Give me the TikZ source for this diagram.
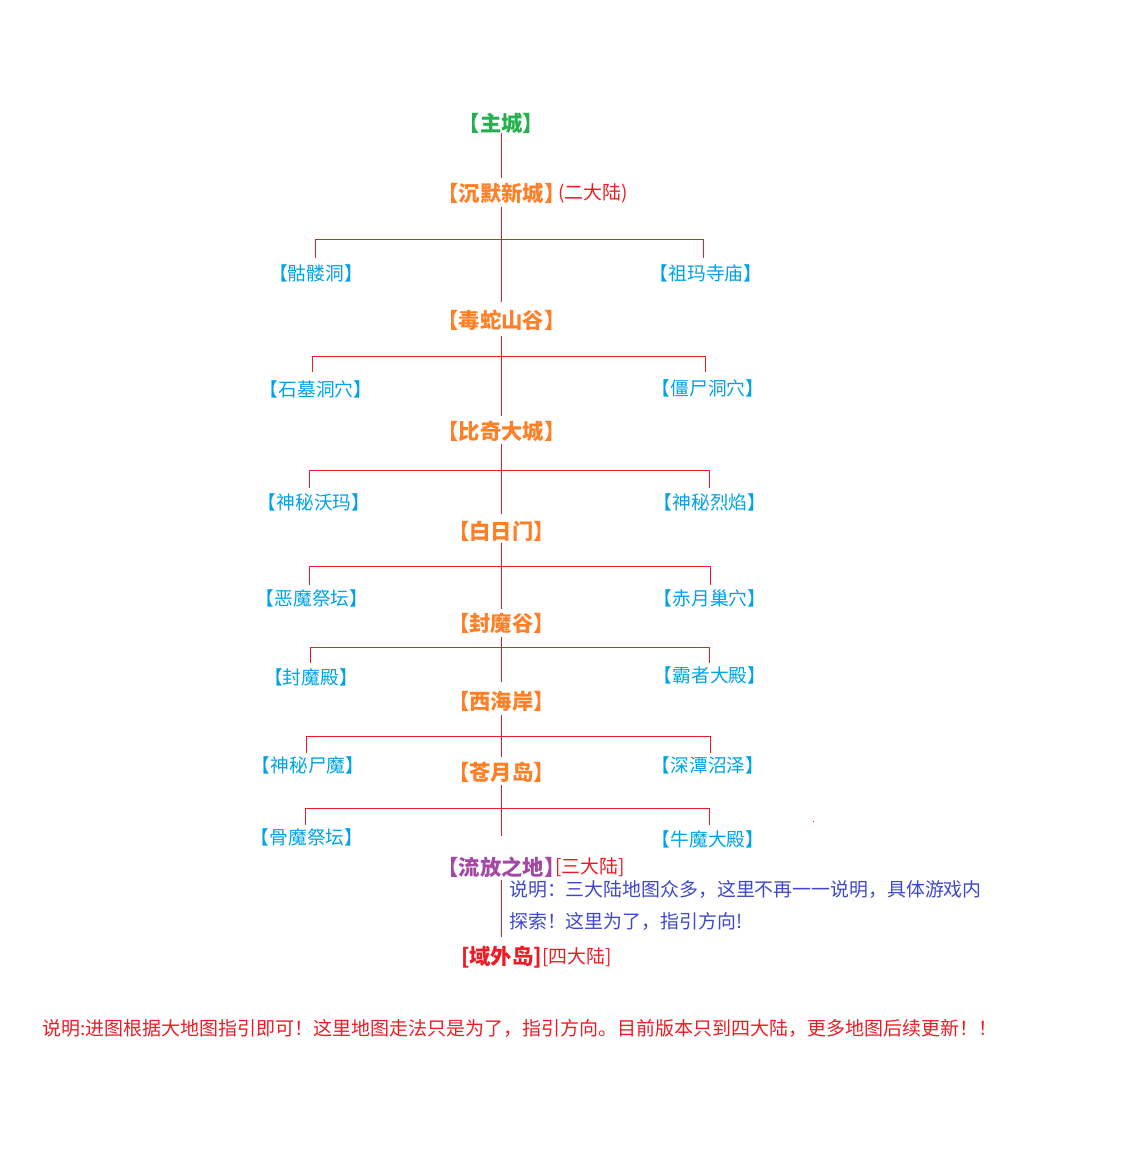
\documentclass[tikz,border=0pt]{standalone}
\usepackage{fontspec}
\setmainfont{Noto Sans CJK SC}
\newfontfamily\halffont[CharacterWidth=AlternateHalf]{Noto Sans CJK SC}
\definecolor{cgreen}{RGB}{34,177,76}
\definecolor{corange}{RGB}{255,127,39}
\definecolor{cblue}{RGB}{0,162,232}
\definecolor{cred}{RGB}{237,28,36}
\definecolor{cpurple}{RGB}{163,73,164}
\definecolor{cindigo}{RGB}{63,72,204}
\begin{document}
\begin{tikzpicture}[x=1pt,y=-1pt,
  mainbox/.style={inner sep=0pt, font=\halffont\fontsize{21.3}{24}\selectfont\bfseries, text=corange},
  sidebox/.style={inner sep=0pt, font=\halffont\fontsize{18.7}{22}\selectfont, text=cblue},
  notebox/.style={inner sep=0pt, anchor=west, font=\fontsize{18.9}{22}\selectfont, text=cred},
  descbox/.style={inner sep=0pt, anchor=west, font=\fontsize{18.9}{22}\selectfont, text=cindigo},
  bottombox/.style={inner sep=0pt, anchor=west, font=\fontsize{19}{22}\selectfont, text=cred},
  link/.style={draw=cred, line width=1.1pt}]
\useasboundingbox (0,0) rectangle (1121,1154);

% main chain
\node[mainbox,text=cgreen] (zc) at (501.5,123) {【主城】};
\node[mainbox] (cm) at (501.5,193) {【沉默新城】};
\node[notebox] (cm2) at (558,193) {(二大陆)};
\node[mainbox] (ds) at (501.5,320) {【毒蛇山谷】};
\node[mainbox] (bq) at (501.5,431) {【比奇大城】};
\node[mainbox] (br) at (501.5,531) {【白日门】};
\node[mainbox] (fmg) at (501.5,623) {【封魔谷】};
\node[mainbox] (xh) at (501.5,701) {【西海岸】};
\node[mainbox] (cyd) at (501.5,772) {【苍月岛】};
\node[mainbox,text=cpurple] (lf) at (501.5,867) {【流放之地】};
\node[notebox] (lf2) at (555,867) {[三大陆]};
\node[descbox] (d1) at (509,890) {说明：三大陆地图众多，这里不再一一说明，具体游戏内};
\node[descbox] (d2) at (509,922) {探索！这里为了，指引方向!};
\node[mainbox,text=cred] (yw) at (501.5,957) {[域外岛]};
\node[notebox] (yw2) at (542,957) {[四大陆]};

% side nodes
\node[sidebox] (kl) at (316,273) {【骷髅洞】};
\node[sidebox] (zm) at (706,273) {【祖玛寺庙】};
\node[sidebox] (sm) at (316,389) {【石墓洞穴】};
\node[sidebox] (js) at (708,388) {【僵尸洞穴】};
\node[sidebox] (sw) at (314,502) {【神秘沃玛】};
\node[sidebox] (sl) at (710,502) {【神秘烈焰】};
\node[sidebox] (em) at (312,598) {【恶魔祭坛】};
\node[sidebox] (cy) at (710,598) {【赤月巢穴】};
\node[sidebox] (fmd) at (311,677) {【封魔殿】};
\node[sidebox] (bz) at (710,675) {【霸者大殿】};
\node[sidebox] (ssm) at (308,765) {【神秘尸魔】};
\node[sidebox] (st) at (708,765) {【深潭沼泽】};
\node[sidebox] (gm) at (307,837) {【骨魔祭坛】};
\node[sidebox] (nm) at (708,839) {【牛魔大殿】};

% bottom note
\node[bottombox] (bt) at (42,1028) {说明:进图根据大地图指引即可！这里地图走法只是为了，指引方向。目前版本只到四大陆，更多地图后续更新！！};

% trunk
\draw[link] ([yshift=-10pt]zc.center) -- ([yshift=15pt]cm.center);
\draw[link] ([yshift=-14pt]cm.center) -- ([yshift=18pt]ds.center);
\draw[link] ([yshift=-16pt]ds.center) -- ([yshift=15pt]bq.center);
\draw[link] ([yshift=-13pt]bq.center) -- ([yshift=17pt]br.center);
\draw[link] ([yshift=-12pt]br.center) -- ([yshift=14pt]fmg.center);
\draw[link] ([yshift=-14pt]fmg.center) -- ([yshift=19pt]xh.center);
\draw[link] ([yshift=-14pt]xh.center) -- ([yshift=15pt]cyd.center);
\draw[link] ([yshift=-13pt]cyd.center) -- ([yshift=31pt]lf.center);
\draw[link] ([yshift=-13pt]lf.center) -- ([yshift=20pt]yw.center);

% branch levels
\coordinate (b1) at (501.5,239.5);
\coordinate (b2) at (501.5,356.5);
\coordinate (b3) at (501.5,470.5);
\coordinate (b4) at (501.5,566.5);
\coordinate (b5) at (501.5,647.5);
\coordinate (b6) at (501.5,736.5);
\coordinate (b7) at (501.5,808.5);

\draw[link] ([xshift=-0.5pt,yshift=15pt]kl.center) |- (b1) -| ([xshift=-2.5pt,yshift=15pt]zm.center);
\draw[link] ([xshift=-3.5pt,yshift=17pt]sm.center) |- (b2) -| ([xshift=-2.5pt,yshift=16pt]js.center);
\draw[link] ([xshift=-4.5pt,yshift=14pt]sw.center) |- (b3) -| ([xshift=-0.5pt,yshift=14pt]sl.center);
\draw[link] ([xshift=-2.5pt,yshift=13pt]em.center) |- (b4) -| ([xshift=0.5pt,yshift=13pt]cy.center);
\draw[link] ([xshift=-0.5pt,yshift=14pt]fmd.center) |- (b5) -| ([xshift=-0.5pt,yshift=12pt]bz.center);
\draw[link] ([xshift=-1.5pt,yshift=12pt]ssm.center) |- (b6) -| ([xshift=2.5pt,yshift=12pt]st.center);
\draw[link] ([xshift=-1.5pt,yshift=12pt]gm.center) |- (b7) -| ([xshift=1.5pt,yshift=14pt]nm.center);

% stray dot
\fill[cred] (812.5,820.5) rectangle (813.5,821.5);
\end{tikzpicture}
\end{document}
